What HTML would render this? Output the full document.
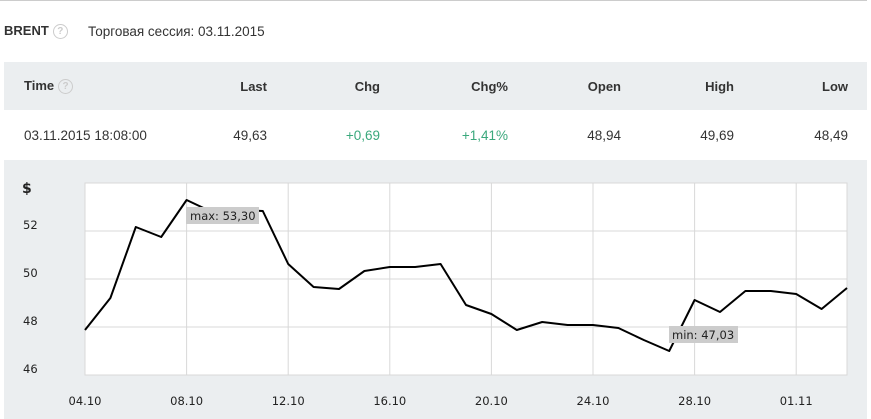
<!DOCTYPE html><html><head><style>
body{margin:0;width:871px;height:419px;background:#fff;font-family:"Liberation Sans","DejaVu Sans",sans-serif;position:relative;overflow:hidden;color:#333}
.a{position:absolute;font-size:13px;white-space:nowrap}
.r{text-align:right}
.q{display:inline-block;width:13px;height:13px;border:1.5px solid #ccc;border-radius:50%;color:#ccc;font-size:10px;line-height:13px;text-align:center;vertical-align:middle;margin-left:4px;font-weight:bold}
</style></head><body>
<div style="position:absolute;left:0;top:0;width:867px;height:1px;background:#ccc"></div>
<div class="a" style="left:4px;top:23px;font-weight:bold">BRENT<span class="q">?</span></div>
<div class="a" style="left:88px;top:24px;font-size:13.5px">Торговая сессия: 03.11.2015</div>
<div style="position:absolute;left:4px;top:62px;width:863px;height:48px;background:#ebeef0"></div>
<div style="position:absolute;left:4px;top:160px;width:863px;height:259px;background:#ebeef0"></div>
<div class="a" style="left:24px;top:78px;font-weight:bold">Time<span class="q">?</span></div>
<div class="a r" style="right:604px;top:79px;font-weight:bold">Last</div>
<div class="a r" style="right:491px;top:79px;font-weight:bold">Chg</div>
<div class="a r" style="right:363px;top:79px;font-weight:bold">Chg%</div>
<div class="a r" style="right:250px;top:79px;font-weight:bold">Open</div>
<div class="a r" style="right:137px;top:79px;font-weight:bold">High</div>
<div class="a r" style="right:23px;top:79px;font-weight:bold">Low</div>
<div class="a" style="left:24px;top:128px;font-size:13.5px">03.11.2015 18:08:00</div>
<div class="a r" style="right:604px;top:128px;font-size:13.5px">49,63</div>
<div class="a r" style="right:491px;top:128px;color:#3aa87c;font-size:13.5px">+0,69</div>
<div class="a r" style="right:363px;top:128px;color:#3aa87c;font-size:13.5px">+1,41%</div>
<div class="a r" style="right:250px;top:128px;font-size:13.5px">48,94</div>
<div class="a r" style="right:137px;top:128px;font-size:13.5px">49,69</div>
<div class="a r" style="right:23px;top:128px;font-size:13.5px">48,49</div>
<svg style="position:absolute;left:0;top:0" width="871" height="419" font-family="DejaVu Sans,sans-serif" font-size="11.5">
<rect x="85" y="183" width="762" height="192" fill="#fff" stroke="#d8d8d8"/>
<g stroke="#d8d8d8">
<line x1="85" x2="847" y1="231" y2="231"/><line x1="85" x2="847" y1="279" y2="279"/><line x1="85" x2="847" y1="327" y2="327"/>
<line x1="186.6" x2="186.6" y1="183" y2="375"/><line x1="288.2" x2="288.2" y1="183" y2="375"/><line x1="389.8" x2="389.8" y1="183" y2="375"/><line x1="491.4" x2="491.4" y1="183" y2="375"/><line x1="593" x2="593" y1="183" y2="375"/><line x1="694.6" x2="694.6" y1="183" y2="375"/><line x1="796.2" x2="796.2" y1="183" y2="375"/>
</g>
<g fill="#222">
<text x="22" y="193" font-weight="bold" font-size="14">$</text>
<text x="23" y="229">52</text><text x="23" y="277">50</text><text x="23" y="325">48</text><text x="23" y="373">46</text>
<g text-anchor="middle"><text x="85" y="405">04.10</text><text x="186.6" y="405">08.10</text><text x="288.2" y="405">12.10</text><text x="389.8" y="405">16.10</text><text x="491.4" y="405">20.10</text><text x="593" y="405">24.10</text><text x="694.6" y="405">28.10</text><text x="796.2" y="405">01.11</text></g>
</g>
<polyline fill="none" stroke="#000" stroke-width="2" stroke-linejoin="round" points="85,330 110.4,298 135.8,227 161.2,237 186.6,200 212,212 237.4,210 262.8,211 288.2,264 313.6,287 339,289 364.4,271 389.8,267 415.2,267 440.6,264 466,305 491.4,314 516.8,330 542.2,322 567.6,325 593,325 618.4,328 643.8,340 669.2,351 694.6,300 720,312 745.4,291 770.8,291 796.2,294 821.6,309 847,288"/>
<rect x="186" y="207" width="73" height="17" fill="#ccc"/>
<text x="190" y="220" fill="#222">max: 53,30</text>
<rect x="669" y="326" width="69" height="17" fill="#ccc"/>
<text x="672" y="339" fill="#222">min: 47,03</text>
</svg>
</body></html>
